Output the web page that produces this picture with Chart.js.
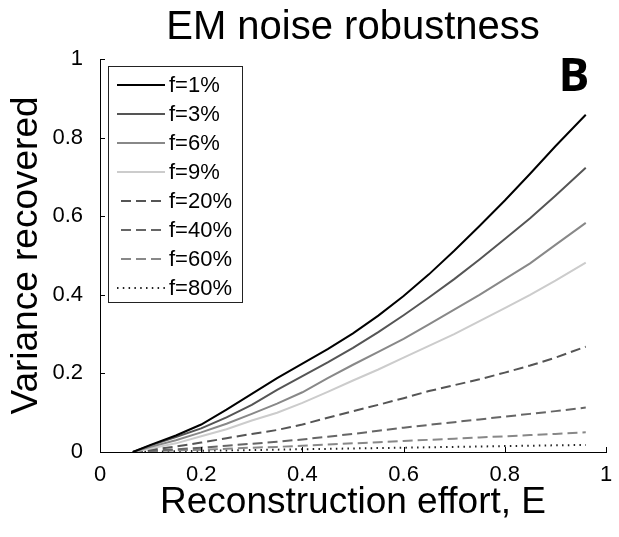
<!DOCTYPE html>
<html lang="en">
<head>
    <meta charset="UTF-8">
    <title>EM noise robustness</title>
    <script src="https://cdn.jsdelivr.net/npm/chart.js"></script>
    <style>
        body {
            margin: 0;
            padding: 0;
            background: white;
        }
        #chart {
            display: block;
        }
    </style>
</head>
<body>

    <canvas id="chart" width="619" height="537"></canvas>

    <script>
        // reconstruction effort E (x) and variance recovered per noise level f
        const effort = [0.065, 0.1, 0.15, 0.2, 0.25, 0.3, 0.35, 0.4, 0.45, 0.5, 0.55, 0.6, 0.65, 0.7, 0.75, 0.8, 0.85, 0.9, 0.96];
        const f1  = [0, 0.018, 0.042, 0.07, 0.108, 0.148, 0.188, 0.225, 0.262, 0.302, 0.347, 0.397, 0.452, 0.512, 0.575, 0.64, 0.708, 0.778, 0.858];
        const f3  = [0, 0.017, 0.038, 0.06, 0.088, 0.12, 0.158, 0.193, 0.228, 0.265, 0.305, 0.348, 0.393, 0.44, 0.49, 0.542, 0.595, 0.652, 0.723];
        const f6  = [0, 0.013, 0.03, 0.05, 0.072, 0.097, 0.123, 0.152, 0.188, 0.222, 0.255, 0.288, 0.325, 0.362, 0.4, 0.44, 0.48, 0.527, 0.583];
        const f9  = [0, 0.009, 0.022, 0.04, 0.058, 0.08, 0.1, 0.125, 0.153, 0.182, 0.21, 0.24, 0.27, 0.3, 0.333, 0.366, 0.4, 0.436, 0.482];
        const f20 = [0, 0.006, 0.014, 0.024, 0.035, 0.046, 0.056, 0.07, 0.087, 0.104, 0.12, 0.137, 0.155, 0.17, 0.185, 0.202, 0.22, 0.24, 0.268];
        const f40 = [0, 0.003, 0.007, 0.011, 0.016, 0.021, 0.026, 0.032, 0.039, 0.046, 0.054, 0.062, 0.069, 0.076, 0.083, 0.09, 0.097, 0.104, 0.113];
        const f60 = [0, 0.002, 0.004, 0.006, 0.008, 0.011, 0.013, 0.016, 0.019, 0.022, 0.025, 0.028, 0.031, 0.034, 0.037, 0.04, 0.043, 0.046, 0.05];
        const f80 = [0, 0.001, 0.002, 0.003, 0.004, 0.005, 0.006, 0.007, 0.008, 0.009, 0.01, 0.011, 0.012, 0.013, 0.014, 0.015, 0.016, 0.017, 0.018];

        const seriesLabels = ["f=1%", "f=3%", "f=6%", "f=9%", "f=20%", "f=40%", "f=60%", "f=80%"];
        const seriesValues = [f1, f3, f6, f9, f20, f40, f60, f80];
        const tickValues = [0, 0.2, 0.4, 0.6, 0.8, 1];

        const FONT = '"Liberation Sans", Arial, Helvetica, sans-serif';

        const lineStyles = [
            { color: "#000000", dash: [] },
            { color: "#555555", dash: [] },
            { color: "#888888", dash: [] },
            { color: "#cccccc", dash: [] },
            { color: "#555555", dash: [10, 5] },
            { color: "#666666", dash: [10, 5] },
            { color: "#888888", dash: [10, 5] },
            { color: "#222222", dash: [1.5, 4.3] }
        ];

        const datasets = seriesValues.map((vals, i) => ({
            label: seriesLabels[i],
            data: vals.map((y, j) => ({ x: effort[j], y: y })),
            borderColor: lineStyles[i].color,
            borderDash: lineStyles[i].dash,
            borderWidth: 2,
            pointRadius: 0,
            tension: 0,
            fill: false
        }));

        // MATLAB-style tick text: 0, 0.2, ..., 1
        const tickText = v => String(+Number(v).toFixed(1));

        // small inward tick marks along the left and bottom axes
        const inwardTicks = {
            id: "inwardTicks",
            afterDatasetsDraw(chart) {
                const { ctx, scales: { x, y } } = chart;
                ctx.save();
                ctx.strokeStyle = "#000";
                ctx.lineWidth = 1;
                ctx.beginPath();
                tickValues.forEach(v => {
                    const py = Math.round(y.getPixelForValue(v)) + 0.5;
                    ctx.moveTo(x.left, py);
                    ctx.lineTo(x.left + 5, py);
                    const px = Math.round(x.getPixelForValue(v)) + 0.5;
                    ctx.moveTo(px, y.bottom);
                    ctx.lineTo(px, y.bottom - 5);
                });
                ctx.stroke();
                ctx.restore();
            }
        };

        // boxed legend in the upper left of the plot, plus the panel letter
        const boxLegend = {
            id: "boxLegend",
            afterDraw(chart) {
                const ctx = chart.ctx;
                const left = 108, top = 66, right = 242, bottom = 302;
                ctx.save();
                ctx.fillStyle = "#fff";
                ctx.fillRect(left, top, right - left, bottom - top);
                ctx.strokeStyle = "#222";
                ctx.lineWidth = 1;
                ctx.strokeRect(left + 0.5, top + 0.5, right - left, bottom - top);

                ctx.font = "22px " + FONT;
                ctx.textBaseline = "middle";
                ctx.textAlign = "left";
                chart.data.datasets.forEach((ds, i) => {
                    const ry = 85 + i * 29;
                    ctx.strokeStyle = ds.borderColor;
                    ctx.lineWidth = ds.borderWidth;
                    ctx.setLineDash(ds.borderDash.length ? ds.borderDash : []);
                    ctx.lineDashOffset = ds.borderDash.length === 2 && ds.borderDash[0] > 5 ? -4 : 0;
                    ctx.beginPath();
                    ctx.moveTo(117, ry);
                    ctx.lineTo(165, ry);
                    ctx.stroke();
                    ctx.setLineDash([]);
                    ctx.fillStyle = "#000";
                    ctx.fillText(ds.label, 169, ry + 1);
                });

                ctx.font = 'bold 46px "Open Sans", ' + FONT;
                ctx.textAlign = "center";
                ctx.fillText("B", 574, 78);
                ctx.restore();
            }
        };

        Chart.defaults.color = "#000";
        Chart.defaults.font.family = FONT;

        new Chart(document.getElementById("chart"), {
            type: "line",
            data: { datasets: datasets },
            options: {
                responsive: false,
                animation: false,
                layout: { padding: { left: 0, right: 13, top: 0, bottom: 0 } },
                scales: {
                    x: {
                        type: "linear",
                        min: 0,
                        max: 1,
                        afterFit(scale) { scale.height = 85; },
                        afterBuildTicks(scale) { scale.ticks = tickValues.map(v => ({ value: v })); },
                        grid: { display: false },
                        border: { display: true, color: "#000", width: 1 },
                        ticks: { font: { size: 22 }, padding: 2, maxRotation: 0, autoSkip: false, callback: tickText },
                        title: {
                            display: true,
                            text: "Reconstruction effort, E",
                            font: { size: 37 },
                            padding: { top: 0, bottom: 12 }
                        }
                    },
                    y: {
                        type: "linear",
                        min: 0,
                        max: 1,
                        afterFit(scale) { scale.width = 100; },
                        afterBuildTicks(scale) { scale.ticks = tickValues.map(v => ({ value: v })); },
                        grid: { display: false },
                        border: { display: true, color: "#000", width: 1 },
                        ticks: { font: { size: 22 }, padding: 9, autoSkip: false, callback: tickText },
                        title: {
                            display: true,
                            text: "Variance recovered",
                            font: { size: 37 },
                            padding: { top: 5, bottom: 0 }
                        }
                    }
                },
                plugins: {
                    legend: { display: false },
                    tooltip: { enabled: false },
                    title: {
                        display: true,
                        fullSize: false,
                        text: "EM noise robustness",
                        font: { size: 40, weight: "normal" },
                        padding: { top: 4, bottom: 7 }
                    }
                }
            },
            plugins: [inwardTicks, boxLegend]
        });
    </script>

</body>
</html>
